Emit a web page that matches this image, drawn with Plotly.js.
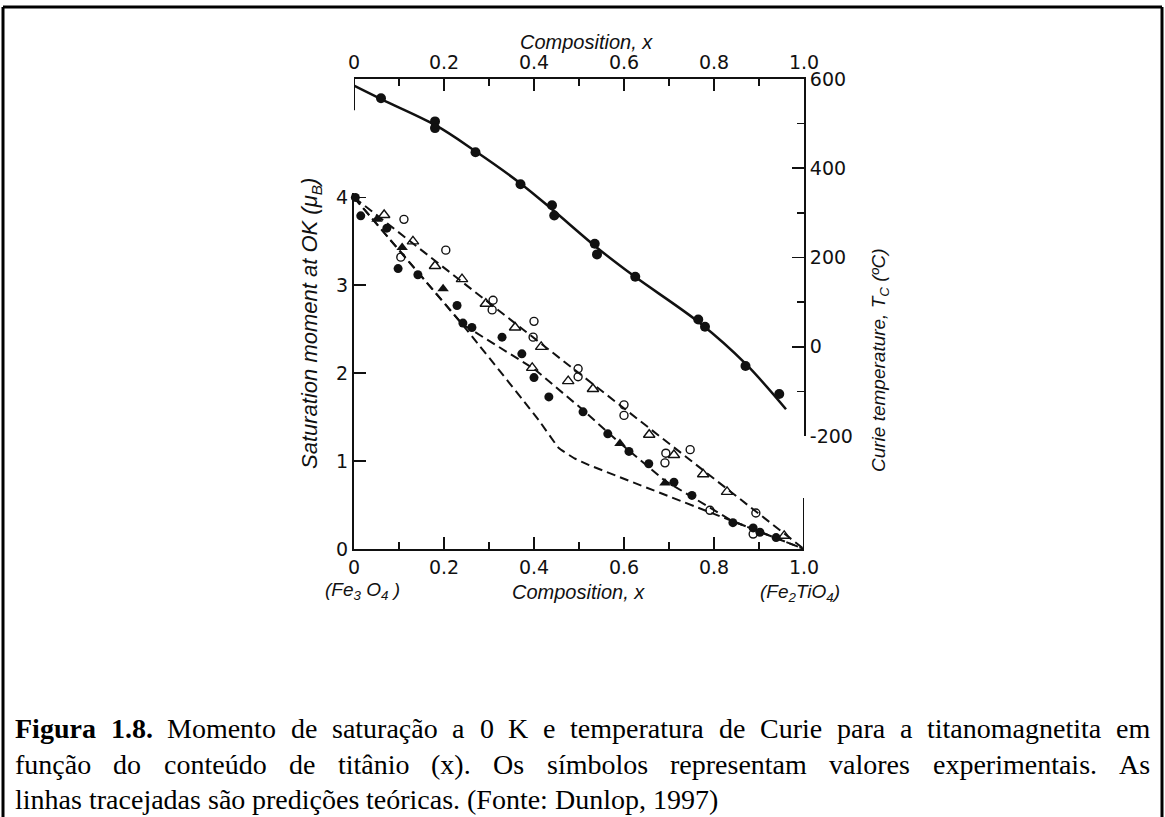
<!DOCTYPE html>
<html><head><meta charset="utf-8">
<script src="https://cdn.plot.ly/plotly-3.0.1.min.js"></script>
<style>html,body{margin:0;padding:0;background:#fff}#chart{width:1165px;height:817px}</style>
</head><body><div id="chart"></div>
<script>
// ---------- DATA ----------
// Curie temperature (top x axis, right y axis)
const tcX = [0.06, 0.18, 0.18, 0.27, 0.37, 0.44, 0.445, 0.535, 0.54, 0.625, 0.765, 0.78, 0.87, 0.945];
const tcY = [557, 505, 490, 436, 364, 317, 294, 231, 207, 157, 61, 45, -43, -106];
const tcFitX = [0, 0.06, 0.18, 0.27, 0.37, 0.44, 0.54, 0.62, 0.77, 0.87, 0.96];
const tcFitY = [585, 555, 497, 438, 366, 308, 222, 160, 52, -38, -140];

// Saturation moment at 0 K (bottom x axis, left y axis)
const fcX = [0.003, 0.015, 0.073, 0.098, 0.142, 0.229, 0.242, 0.262, 0.329, 0.373, 0.40, 0.433, 0.509, 0.564, 0.611, 0.655, 0.711, 0.751, 0.842, 0.887, 0.902, 0.938];
const fcY = [4.00, 3.79, 3.65, 3.19, 3.12, 2.77, 2.57, 2.52, 2.41, 2.22, 1.95, 1.73, 1.56, 1.31, 1.11, 0.97, 0.76, 0.61, 0.30, 0.24, 0.19, 0.13];
const ftX = [0.051, 0.107, 0.198, 0.591, 0.691];
const ftY = [3.75, 3.43, 2.96, 1.20, 0.75];
const otX = [0.067, 0.131, 0.18, 0.24, 0.293, 0.358, 0.396, 0.416, 0.476, 0.531, 0.656, 0.711, 0.776, 0.829, 0.956];
const otY = [3.80, 3.50, 3.22, 3.07, 2.79, 2.52, 2.06, 2.30, 1.91, 1.82, 1.30, 1.07, 0.85, 0.65, 0.15];
const ocX = [0.005, 0.111, 0.104, 0.204, 0.309, 0.307, 0.40, 0.398, 0.498, 0.498, 0.60, 0.60, 0.693, 0.691, 0.747, 0.791, 0.893, 0.887];
const ocY = [4.08, 3.75, 3.32, 3.40, 2.83, 2.72, 2.59, 2.41, 2.05, 1.96, 1.64, 1.52, 1.09, 0.98, 1.13, 0.44, 0.41, 0.17];

// Theoretical (dashed) predictions
const th1X = [0, 1];
const th1Y = [4, 0];
const th2X = [0, 0.24, 0.40, 0.50, 0.59, 0.69, 0.84, 1];
const th2Y = [4, 2.56, 2.05, 1.62, 1.21, 0.78, 0.32, 0];
const th3X = [0, 0.24, 0.41, 0.455, 0.49, 0.52, 1];
const th3Y = [4, 2.56, 1.47, 1.15, 1.03, 0.96, 0];

// Tick labels
const compTicks = [0, 0.2, 0.4, 0.6, 0.8, 1.0];
const compLabels = ['0', '0.2', '0.4', '0.6', '0.8', '1.0'];
const momentTicks = [0, 1, 2, 3, 4];
const tempTicks = [-200, 0, 200, 400, 600];
const tempLabels = ['-200', '0', '200', '400', '600'];

// Caption
const capBold = ['Figura', '1.8.'];
const capLine1 = 'Momento de saturação a 0 K e temperatura de Curie para a titanomagnetita em';
const capLine2 = 'função do conteúdo de titânio (x). Os símbolos representam valores experimentais. As';
const capLine3 = 'linhas tracejadas são predições teóricas. (Fonte: Dunlop, 1997)';

// ---------- LAYOUT ----------
const W = 1165, H = 817;
const fx = p => p / W, fy = p => 1 - p / H;
const INK = '#111';
const SANS = 'Liberation Sans, Arial, sans-serif';
const tickFont = {family: 'DejaVu Sans, sans-serif', size: 19, color: INK};

const common = {
  showgrid: false, zeroline: false, showline: true, linecolor: INK, linewidth: 2,
  ticks: 'inside', ticklen: 12, tickwidth: 1.6, tickcolor: INK, tickfont: tickFont
};
const DASH = '9px,5px';

const traces = [
  {x: tcFitX, y: tcFitY, xaxis: 'x2', yaxis: 'y2', mode: 'lines', line: {color: INK, width: 2.5, shape: 'spline'}, cliponaxis: false, hoverinfo: 'skip'},
  {x: tcX, y: tcY, xaxis: 'x2', yaxis: 'y2', mode: 'markers', marker: {symbol: 'circle', size: 10, color: INK}, cliponaxis: false},
  {x: th1X, y: th1Y, mode: 'lines', line: {color: INK, width: 2, dash: DASH}, cliponaxis: false},
  {x: th2X, y: th2Y, mode: 'lines', line: {color: INK, width: 2, dash: DASH}, cliponaxis: false},
  {x: th3X, y: th3Y, mode: 'lines', line: {color: INK, width: 2, dash: DASH, shape: 'spline', smoothing: 0.3}, cliponaxis: false},
  {x: ocX, y: ocY, mode: 'markers', marker: {symbol: 'circle-open', size: 8, color: INK, line: {width: 1.4, color: INK}}, cliponaxis: false},
  {x: otX, y: otY, mode: 'markers', marker: {symbol: 'triangle-up-open', size: 10, color: INK, line: {width: 1.4, color: INK}}, cliponaxis: false},
  {x: ftX, y: ftY, mode: 'markers', marker: {symbol: 'triangle-up', size: 10, color: INK}, cliponaxis: false},
  {x: fcX, y: fcY, mode: 'markers', marker: {symbol: 'circle', size: 9, color: INK}, cliponaxis: false}
];

// caption (justified) built from word widths
const CAP_FONT = 'Liberation Serif, Times New Roman, serif';
const CAP_SIZE = 28;
const ctx = document.createElement('canvas').getContext('2d');
function tw(t, b) { ctx.font = (b ? 'bold ' : '') + CAP_SIZE + 'px "Liberation Serif"'; return ctx.measureText(t).width; }
const capLeft = 15, capRight = 1150;
const rows = [728, 764, 799];
const capAnn = [];
function placeLine(words, rowY, justify) {
  const widths = words.map(w => tw(w.t, w.b));
  const total = widths.reduce((a, b) => a + b, 0);
  const gap = justify ? (capRight - capLeft - total) / (words.length - 1) : tw(' ', false);
  let x = capLeft;
  words.forEach((w, i) => {
    capAnn.push({xref: 'paper', yref: 'paper', x: fx(x - 1), y: fy(rowY), xanchor: 'left', yanchor: 'middle',
      text: w.b ? '<b>' + w.t + '</b>' : w.t, showarrow: false, borderpad: 0,
      font: {family: CAP_FONT, size: CAP_SIZE, color: '#000'}});
    x += widths[i] + gap;
  });
}
placeLine(capBold.map(t => ({t, b: true})).concat(capLine1.split(' ').map(t => ({t, b: false}))), rows[0], true);
placeLine(capLine2.split(' ').map(t => ({t, b: false})), rows[1], true);
placeLine(capLine3.split(' ').map(t => ({t, b: false})), rows[2], false);

function lab(px, py, text, size, angle) {
  return {xref: 'paper', yref: 'paper', x: fx(px), y: fy(py), xanchor: 'center', yanchor: 'middle',
    text: text, textangle: angle || 0, showarrow: false, font: {family: SANS, size: size, color: INK}};
}
const annotations = [
  lab(587, 42, '<i>Composition, x</i>', 20),
  lab(578, 592, '<i>Composition, x</i>', 20),
  lab(362, 591, '<i>(Fe<sub>3</sub> O<sub>4</sub> )</i>', 19),
  lab(800, 593, '<i>(Fe<sub>2</sub>TiO<sub>4</sub>)</i>', 19),
  lab(311, 324, '<i>Saturation moment at OK (μ<sub>B</sub>)</i>', 22, -90),
  lab(880, 360, '<i>Curie temperature, T<sub>C</sub> (ºC)</i>', 19, -90)
].concat(capAnn);

const shapes = [
  // figure frame
  {type: 'line', xref: 'paper', yref: 'paper', x0: fx(3), x1: fx(3), y0: -0.05, y1: fy(7), line: {color: '#000', width: 3}},
  {type: 'line', xref: 'paper', yref: 'paper', x0: fx(3), x1: fx(1162), y0: fy(7), y1: fy(7), line: {color: '#000', width: 3}},
  {type: 'line', xref: 'paper', yref: 'paper', x0: fx(1162), x1: fx(1162), y0: -0.05, y1: fy(7), line: {color: '#000', width: 3}},
  // short axis stubs
  {type: 'line', xref: 'x2', yref: 'y2', x0: 0, x1: 0, y0: 600, y1: 530, line: {color: INK, width: 2}},
  {type: 'line', xref: 'x', yref: 'y', x0: 1, x1: 1, y0: 0, y1: 0.58, line: {color: INK, width: 2}}
];

const layout = {
  width: W, height: H, margin: {l: 0, r: 0, t: 0, b: 0},
  paper_bgcolor: '#fff', plot_bgcolor: 'rgba(0,0,0,0)', showlegend: false,
  xaxis: Object.assign({}, common, {domain: [fx(354), fx(804)], range: [0, 1], anchor: 'y',
    tickmode: 'array', tickvals: compTicks, ticktext: compLabels,
    minor: {ticks: 'inside', ticklen: 7, tickwidth: 1.6, tickcolor: INK, tick0: 0, dtick: 0.1}}),
  yaxis: Object.assign({}, common, {domain: [fy(549), fy(193)], range: [0, 4.05], anchor: 'x',
    tickmode: 'array', tickvals: momentTicks}),
  xaxis2: Object.assign({}, common, {domain: [fx(354), fx(804)], range: [0, 1], anchor: 'y2', side: 'top',
    tickmode: 'array', tickvals: compTicks, ticktext: compLabels,
    minor: {ticks: 'inside', ticklen: 7, tickwidth: 1.6, tickcolor: INK, tick0: 0, dtick: 0.1}}),
  yaxis2: Object.assign({}, common, {domain: [fy(436), fy(79)], range: [-200, 600], anchor: 'x2', side: 'right',
    tickmode: 'array', tickvals: tempTicks, ticktext: tempLabels,
    minor: {ticks: 'inside', ticklen: 7, tickwidth: 1.6, tickcolor: INK, tick0: 0, dtick: 100}}),
  annotations: annotations,
  shapes: shapes
};

Plotly.newPlot('chart', traces, layout, {staticPlot: true, displayModeBar: false});
</script></body></html>
